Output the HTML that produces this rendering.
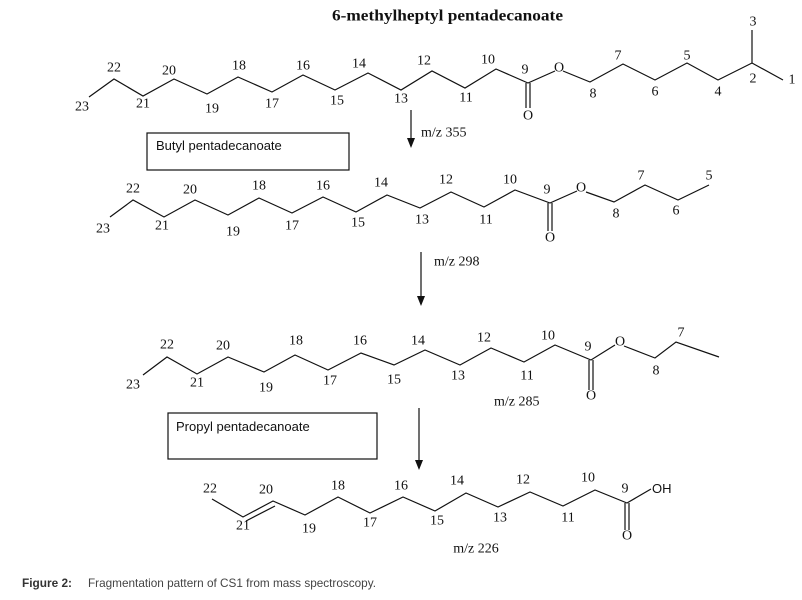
<!DOCTYPE html>
<html><head><meta charset="utf-8"><style>
html,body{margin:0;padding:0;background:#fff;width:802px;height:600px;overflow:hidden}
svg{display:block}
.n{font-family:"Liberation Serif",serif;font-size:14px;fill:#111;text-anchor:middle;dominant-baseline:central}
.s{font-family:"Liberation Sans",sans-serif;font-size:13px;fill:#111}
.l{fill:none;stroke:#111;stroke-width:1.2}
</style></head><body>
<svg width="802" height="600" viewBox="0 0 802 600">
<text x="332" y="16" class="n" style="font-size:16px;font-weight:bold;text-anchor:start" textLength="231" lengthAdjust="spacingAndGlyphs">6-methylheptyl pentadecanoate</text>
<!-- Row 1 -->
<polyline class="l" points="89,97 114,79 143,96 174,79 207,94 238,77 272,92 303,75 335,90 368,73 401,90 432,71 465,88 496,69 528,83 555,71"/>
<polyline class="l" points="563,71 590,82 623,64 655,80 687,63 718,80 752,63 783,80"/>
<line class="l" x1="752" y1="63" x2="752" y2="30"/>
<line class="l" x1="526" y1="83" x2="526" y2="108"/><line class="l" x1="530" y1="83" x2="530" y2="108"/>
<g class="n">
<text x="114" y="68">22</text><text x="169" y="71">20</text><text x="239" y="66">18</text><text x="303" y="66">16</text><text x="359" y="64">14</text><text x="424" y="61">12</text><text x="488" y="60">10</text><text x="525" y="70">9</text><text x="559" y="68">O</text><text x="618" y="56">7</text><text x="687" y="56">5</text><text x="753" y="22">3</text><text x="753" y="79">2</text><text x="792" y="80">1</text>
<text x="82" y="107">23</text><text x="143" y="104">21</text><text x="212" y="109">19</text><text x="272" y="104">17</text><text x="337" y="101">15</text><text x="401" y="99">13</text><text x="466" y="98">11</text><text x="593" y="94">8</text><text x="655" y="92">6</text><text x="718" y="92">4</text><text x="528" y="116">O</text>
</g>
<line class="l" x1="411" y1="110" x2="411" y2="146"/><polygon points="407,138 415,138 411,148" fill="#111"/>
<text x="421" y="133" class="n" style="text-anchor:start">m/z 355</text>
<rect x="147" y="133" width="202" height="37" fill="none" stroke="#111" stroke-width="1.2"/>
<text x="156" y="150" class="s">Butyl pentadecanoate</text>
<!-- Row 2 -->
<polyline class="l" points="110,217 133,200 164,217 195,200 228,215 259,198 292,213 323,197 356,212 387,195 420,208 451,192 484,207 515,190 550,203 577,191"/>
<polyline class="l" points="586,192 614,202 645,185 678,200 709,185"/>
<line class="l" x1="548" y1="203" x2="548" y2="231"/><line class="l" x1="552" y1="203" x2="552" y2="231"/>
<g class="n">
<text x="133" y="189">22</text><text x="190" y="190">20</text><text x="259" y="186">18</text><text x="323" y="186">16</text><text x="381" y="183">14</text><text x="446" y="180">12</text><text x="510" y="180">10</text><text x="547" y="190">9</text><text x="581" y="188">O</text><text x="641" y="176">7</text><text x="709" y="176">5</text>
<text x="103" y="229">23</text><text x="162" y="226">21</text><text x="233" y="232">19</text><text x="292" y="226">17</text><text x="358" y="223">15</text><text x="422" y="220">13</text><text x="486" y="220">11</text><text x="616" y="214">8</text><text x="676" y="211">6</text><text x="550" y="238">O</text>
</g>
<line class="l" x1="421" y1="252" x2="421" y2="304"/><polygon points="417,296 425,296 421,306" fill="#111"/>
<text x="434" y="262" class="n" style="text-anchor:start">m/z 298</text>
<!-- Row 3 -->
<polyline class="l" points="143,375 167,357 197,374 228,357 264,372 295,355 328,370 361,353 394,365 425,350 460,365 491,348 524,362 555,345 591,360 615,345"/>
<polyline class="l" points="624,346 655,358 676,342 719,357"/>
<line class="l" x1="589" y1="360" x2="589" y2="390"/><line class="l" x1="593" y1="360" x2="593" y2="390"/>
<g class="n">
<text x="167" y="345">22</text><text x="223" y="346">20</text><text x="296" y="341">18</text><text x="360" y="341">16</text><text x="418" y="341">14</text><text x="484" y="338">12</text><text x="548" y="336">10</text><text x="588" y="347">9</text><text x="620" y="342">O</text><text x="681" y="333">7</text>
<text x="133" y="385">23</text><text x="197" y="383">21</text><text x="266" y="388">19</text><text x="330" y="381">17</text><text x="394" y="380">15</text><text x="458" y="376">13</text><text x="527" y="376">11</text><text x="656" y="371">8</text><text x="591" y="396">O</text>
</g>
<text x="494" y="402" class="n" style="text-anchor:start">m/z 285</text>
<rect x="168" y="413" width="209" height="46" fill="none" stroke="#111" stroke-width="1.2"/>
<text x="176" y="431" class="s">Propyl pentadecanoate</text>
<line class="l" x1="419" y1="408" x2="419" y2="468"/><polygon points="415,460 423,460 419,470" fill="#111"/>
<!-- Row 4 -->
<polyline class="l" points="212,499 243,517 273,501 305,515 338,497 370,513 403,497 435,511 466,493 498,507 530,492 563,506 595,490 627,503 651,489"/>
<line class="l" x1="246" y1="521" x2="275" y2="506"/>
<line class="l" x1="625" y1="503" x2="625" y2="530"/><line class="l" x1="629" y1="503" x2="629" y2="530"/>
<g class="n">
<text x="210" y="489">22</text><text x="266" y="490">20</text><text x="338" y="486">18</text><text x="401" y="486">16</text><text x="457" y="481">14</text><text x="523" y="480">12</text><text x="588" y="478">10</text><text x="625" y="489">9</text>
<text x="243" y="526">21</text><text x="309" y="529">19</text><text x="370" y="523">17</text><text x="437" y="521">15</text><text x="500" y="518">13</text><text x="568" y="518">11</text><text x="627" y="536">O</text>
</g>
<text x="652" y="493" class="s">OH</text>
<text x="476" y="549" class="n">m/z 226</text>
<!-- caption -->
<text x="22" y="587" textLength="50" lengthAdjust="spacingAndGlyphs" style="font-family:'Liberation Sans',sans-serif;font-size:12px;font-weight:bold;fill:#333">Figure 2:</text>
<text x="88" y="587" textLength="288" lengthAdjust="spacingAndGlyphs" style="font-family:'Liberation Sans',sans-serif;font-size:12px;fill:#444">Fragmentation pattern of CS1 from mass spectroscopy.</text>
</svg>
</body></html>
